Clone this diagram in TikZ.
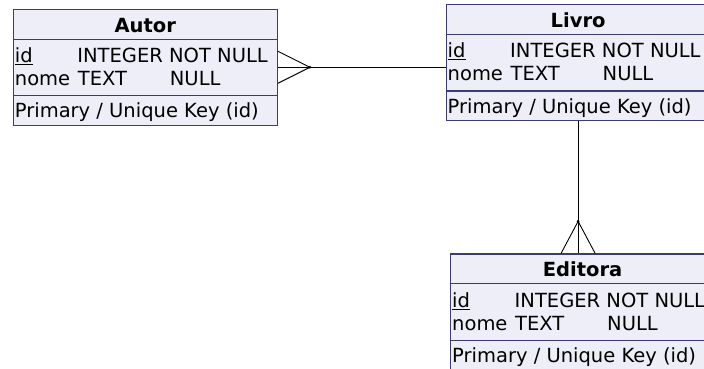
\documentclass[tikz,border=0pt]{standalone}
\usepackage{fontspec}
\setmainfont{DejaVu Sans}
\usetikzlibrary{calc, positioning}

\definecolor{tblfill}{HTML}{EEEEF8}
\definecolor{tblline}{HTML}{3C3C70}

\begin{document}
\begin{tikzpicture}[x=1pt, y=-1pt]
  \tikzset{
   table/.style={draw=tblline, fill=tblfill, line width=1.2pt, minimum width=264pt, minimum height=116pt, inner sep=0pt, anchor=north west},
   heading/.style={font=\fontsize{19.5}{24}\selectfont\bfseries, inner sep=0pt, anchor=base},
   field/.style={font=\fontsize{19.5}{24}\selectfont, inner sep=0pt, anchor=base west},
   rule/.style={draw=tblline, line width=1.2pt},
   link/.style={line width=1.2pt},
   prong/.style={line width=.9pt},
  }
  \useasboundingbox (0, 0) rectangle (704, 369);
  \clip (0, 0) rectangle (704, 369);

  % the three tables
  \foreach \name/\head/\x/\y in {
   autor/Autor/12.7/8.7,
   livro/Livro/445.5/4,
   editora/Editora/450/253.3
  } {
   \node [table] (\name) at (\x, \y) {};
   \draw [rule] ($(\name.north west)+(0, 30.5)$) -- ($(\name.north east)+(0, 30.5)$);
   \draw [rule] ($(\name.north west)+(0, 87)$) -- ($(\name.north east)+(0, 87)$);
   \node [heading] (\name-head) at ($(\name.north)+(0, 23.5)$) {\head};
   \node [field] (\name-id) at ($(\name.north west)+(2, 54)$) {\underline{id}};
   \node [field] (\name-idtype) at ($(\name.north west)+(64.5, 54)$) {INTEGER NOT NULL};
   \node [field] (\name-nome) at ($(\name.north west)+(2, 77)$) {nome};
   \node [field] (\name-nometype) at ($(\name.north west)+(65, 77)$) {TEXT};
   \node [field] (\name-nomenull) at ($(\name.north west)+(157, 77)$) {NULL};
   \node [field] (\name-key) at ($(\name.north west)+(2, 109)$) {Primary / Unique Key (id)};
  }

  % Autor -- Livro
  \coordinate (autortip) at ($(autor.east)+(32, 0)$);
  \coordinate (autorup) at ($(autor.east)+(0, -16)$);
  \coordinate (autordown) at ($(autor.east)+(0, 16)$);
  \draw [link] (autor.east) -- (autor.east -| livro.west);
  \draw [prong] (autorup) -- (autortip) -- (autordown);
  \fill (autortip) circle (1.5);

  % Livro -- Editora
  \coordinate (editoratip) at ($(livro.south |- editora.north)+(0, -32)$);
  \coordinate (editoraleft) at ($(livro.south |- editora.north)+(-17, 0)$);
  \coordinate (editoraright) at ($(livro.south |- editora.north)+(17, 0)$);
  \draw [link] (livro.south) -- (livro.south |- editora.north);
  \draw [prong] (editoraleft) -- (editoratip) -- (editoraright);
  \fill (editoratip) circle (1.5);
\end{tikzpicture}
\end{document}
